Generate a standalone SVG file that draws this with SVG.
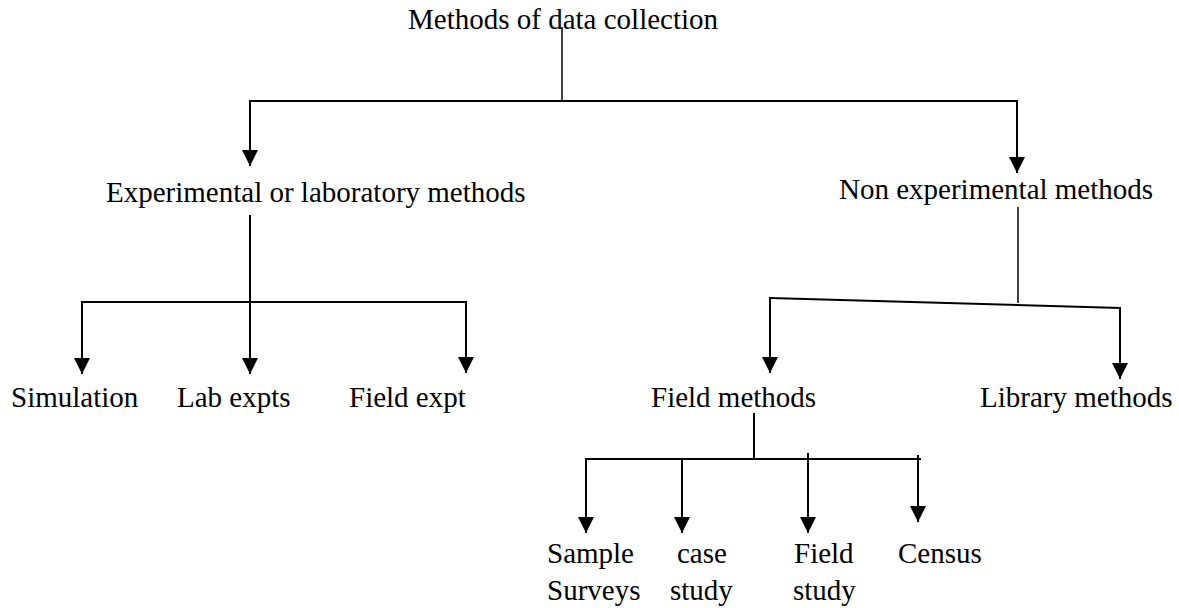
<svg xmlns="http://www.w3.org/2000/svg" width="1179" height="608" viewBox="0 0 1179 608">
<style>
text{font-family:"Liberation Serif","Times New Roman",serif;font-size:29px;fill:#000}
.ln{stroke:#000;stroke-width:2;fill:none}
.thin{stroke:#000;stroke-width:1.5;fill:none}
.ar{stroke:#000;stroke-width:2;fill:none;marker-end:url(#ah)}
</style>
<defs>
<marker id="ah" viewBox="0 0 16 16" markerWidth="16" markerHeight="16" markerUnits="userSpaceOnUse" refX="16" refY="8" orient="auto">
<path d="M0,0 L16,8 L0,16 Z" fill="#000"/>
</marker>
</defs>
<rect width="1179" height="608" fill="#fff"/>
<g id="connectors">
<line class="thin" x1="562" y1="27" x2="562" y2="101"/>
<line class="ln" x1="249" y1="101" x2="1018" y2="101"/>
<line class="ar" x1="250" y1="100" x2="250" y2="166"/>
<line class="ar" x1="1017" y1="100" x2="1017" y2="173"/>
<line class="ln" x1="250" y1="215" x2="250" y2="302"/>
<line class="ln" x1="81" y1="302" x2="467" y2="302"/>
<line class="ar" x1="82" y1="301" x2="82" y2="374"/>
<line class="ar" x1="250" y1="300" x2="250" y2="374"/>
<line class="ar" x1="466" y1="301" x2="466" y2="373"/>
<line class="thin" x1="1018" y1="207" x2="1018" y2="303"/>
<line class="ln" x1="770" y1="298" x2="1121" y2="308"/>
<line class="ar" x1="770" y1="297" x2="770" y2="373"/>
<line class="ar" x1="1120" y1="307" x2="1120" y2="379"/>
<line class="ln" x1="754" y1="413" x2="754" y2="459"/>
<line class="ln" x1="585" y1="459" x2="921" y2="459"/>
<line class="ar" x1="586" y1="458" x2="586" y2="533"/>
<line class="ar" x1="682" y1="458" x2="682" y2="533"/>
<line class="ar" x1="808" y1="453" x2="808" y2="533"/>
<line class="ar" x1="918" y1="455" x2="918" y2="522"/>
</g>
<g id="n-root"><text x="408" y="29">Methods of data collection</text></g>
<g id="n-exp"><text x="106" y="202">Experimental or laboratory methods</text></g>
<g id="n-nonexp"><text x="839" y="199">Non experimental methods</text></g>
<g id="n-sim"><text x="11" y="407">Simulation</text></g>
<g id="n-lab"><text x="177" y="407">Lab expts</text></g>
<g id="n-fieldexpt"><text x="349" y="407">Field expt</text></g>
<g id="n-fieldmethods"><text x="651" y="407">Field methods</text></g>
<g id="n-library"><text x="980" y="407">Library methods</text></g>
<g id="n-sample"><text x="547" y="563">Sample</text><text x="547" y="600">Surveys</text></g>
<g id="n-case"><text x="677" y="563">case</text><text x="670" y="600">study</text></g>
<g id="n-fieldstudy"><text x="794" y="563">Field</text><text x="793" y="600">study</text></g>
<g id="n-census"><text x="898" y="563">Census</text></g>
</svg>
